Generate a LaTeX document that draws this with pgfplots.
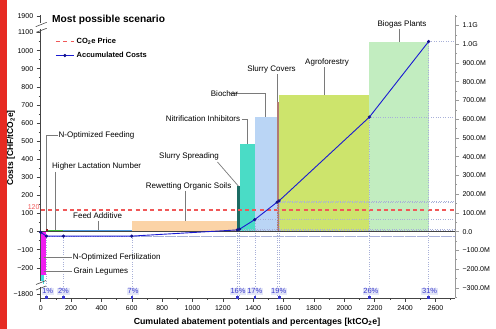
\documentclass[border=0pt]{standalone}
\usepackage{pgfplots}
\pgfplotsset{compat=1.18}
\usepackage{fontspec}
\setmainfont{Liberation Sans}
\definecolor{cGL}{HTML}{40DCDC}
\definecolor{cNOF}{HTML}{F01EF0}
\definecolor{cNFe}{HTML}{8E1B1B}
\definecolor{cHLN}{HTML}{3CBF3C}
\definecolor{cFA}{HTML}{4A9AE0}
\definecolor{cROS}{HTML}{FBD3A6}
\definecolor{cSS}{HTML}{1B6B63}
\definecolor{cNI}{HTML}{4ADCC6}
\definecolor{cBC}{HTML}{BAD5F5}
\definecolor{cSC}{HTML}{B07A74}
\definecolor{cAF}{HTML}{CDE46C}
\definecolor{cBP}{HTML}{C2EDC0}
\definecolor{cLine}{HTML}{1A1AD2}
\definecolor{cMark}{HTML}{12128C}
\definecolor{cDot}{HTML}{A8B0D8}
\definecolor{cLead}{HTML}{7A7A7A}
\definecolor{cPct}{HTML}{3838CC}
\definecolor{cPctBg}{HTML}{E4E7F7}
\definecolor{cAxis}{HTML}{444444}
\definecolor{cRAxis}{HTML}{9A9A9A}
\definecolor{cStripe}{HTML}{E62A22}
\definecolor{cPrice}{HTML}{F05858}
\newcommand{\tickfont}{\fontsize{7}{8}\selectfont}
\newcommand{\barfont}{\fontsize{8}{9.5}\selectfont}
\begin{document}
\begin{tikzpicture}[x=1pt,y=1pt]
\useasboundingbox (0,0) rectangle (496,329);
\fill[cStripe] (0,0) rectangle (7,329);

\begin{axis}[
  at={(40.7pt,31pt)}, anchor=south west,
  scale only axis, width=414.3pt, height=283pt,
  xmin=0, xmax=2729, ymin=-366.9, ymax=1196.7,
  clip mode=individual,
  axis x line*=bottom, axis y line*=left,
  axis line style={cAxis, line width=0.6pt},
  xtick={0,200,...,2600}, minor xtick={100,300,...,2700},
  ytick={-346,-200,-100,0,100,200,300,400,500,600,700,800,900,1000,1100,1192},
  yticklabels={−1800,−200,−100,0,100,200,300,400,500,600,700,800,900,1000,1100,1900},
  minor ytick={-150,-50,50,150,...,1050},
  tick align=outside, major tick length=4pt, minor tick length=2pt,
  every tick/.style={cAxis, line width=0.5pt},
  tick label style={font=\tickfont, text=black},
  /pgf/number format/assume math mode=true,
  /pgf/number format/set thousands separator={},
]
% bars: (start, end) cumulative potential [ktCO2e], height = cost [CHF/tCO2e]
\addplot[fill=cGL, draw=none] coordinates {(0,-290) (20,-290)} \closedcycle;
\addplot[fill=cNOF, draw=none] coordinates {(0,-239) (38,-239)} \closedcycle;
\addplot[fill=cNFe, draw=none] coordinates {(38,14) (47,14)} \closedcycle;
\addplot[fill=cHLN, draw=none] coordinates {(47,9) (150,9)} \closedcycle;
\addplot[fill=cFA, draw=none] coordinates {(150,10) (600,10)} \closedcycle;
\addplot[fill=cROS, draw=none] coordinates {(600,60) (1295,60)} \closedcycle;
\addplot[fill=cSS, draw=none] coordinates {(1295,252) (1310,252)} \closedcycle;
\addplot[fill=cNI, draw=none] coordinates {(1310,483) (1410,483)} \closedcycle;
\addplot[fill=cBC, draw=none] coordinates {(1410,632) (1557,632)} \closedcycle;
\addplot[fill=cSC, draw=none] coordinates {(1557,718) (1570,718)} \closedcycle;
\addplot[fill=cAF, draw=none] coordinates {(1570,753) (2165,753)} \closedcycle;
\addplot[fill=cBP, draw=none] coordinates {(2165,1046) (2555,1046)} \closedcycle;
% zero line
\addplot[draw=cAxis, line width=0.7pt] coordinates {(0,0) (2729,0)};
% CO2e price
\addplot[draw=cPrice, line width=1.5pt, dash pattern=on 4pt off 3.3pt] coordinates {(0,120) (2729,120)};
\node[anchor=east, text=cPrice, font=\tickfont, inner sep=1pt] at (axis cs:0,136) {120};
\end{axis}

\begin{axis}[
  at={(40.7pt,31pt)}, anchor=south west,
  scale only axis, width=414.3pt, height=283pt,
  xmin=0, xmax=2729, ymin=-354.3, ymax=1155.8,
  axis x line=none, axis y line*=right,
  axis line style={cRAxis, line width=0.8pt},
  ytick={-300,-200,...,1100},
  yticklabels={−300.0M,−200.0M,−100.0M,0.0,100.0M,200.0M,300.0M,400.0M,500.0M,600.0M,700.0M,800.0M,900.0M,1.0G,1.1G},
  minor ytick={-350,-250,...,1150},
  tick align=outside, major tick length=4pt, minor tick length=2pt,
  every tick/.style={cRAxis, line width=0.5pt},
  tick label style={font=\tickfont, text=black},
  legend style={at={(0.0345,0.926)}, anchor=north west, draw=none, fill=none,
    font=\bfseries\fontsize{7.5}{9}\selectfont, row sep=3pt, inner sep=0pt},
  legend cell align=left,
  legend image code/.code={\draw[mark repeat=2,mark phase=2,#1] plot coordinates {(0pt,0pt)(9pt,0pt)(18pt,0pt)};},
]
\addlegendimage{draw=cPrice, dash pattern=on 4pt off 3.3pt, line width=1.5pt}
\addlegendentry{CO\textsubscript{2}e Price}
% helper dotted lines
\addplot[cDot, dotted, forget plot] coordinates {(38,-354.3) (38,-24) (2729,-24)};
\addplot[cDot, dotted, forget plot] coordinates {(150,-354.3) (150,-24) (2729,-24)};
\addplot[cDot, dotted, forget plot] coordinates {(600,-354.3) (600,-24) (2729,-24)};
\addplot[cDot, dotted, forget plot] coordinates {(1295,-354.3) (1295,9) (2729,9)};
\addplot[cDot, dotted, forget plot] coordinates {(1310,-354.3) (1310,13) (2729,13)};
\addplot[cDot, dotted, forget plot] coordinates {(1410,-354.3) (1410,64) (2729,64)};
\addplot[cDot, dotted, forget plot] coordinates {(1557,-354.3) (1557,157) (2729,157)};
\addplot[cDot, dotted, forget plot] coordinates {(1570,-354.3) (1570,164) (2729,164)};
\addplot[cDot, dotted, forget plot] coordinates {(2165,-354.3) (2165,611) (2729,611)};
\addplot[cDot, dotted, forget plot] coordinates {(2555,-354.3) (2555,1014) (2729,1014)};
% accumulated costs [CHF]
\addplot[color=cLine, line width=0.9pt, mark=*, mark size=1.1pt, mark options={draw=cMark, fill=cMark}]
  coordinates {(0,-4) (38,-24) (150,-24) (600,-24) (1295,9) (1310,13) (1410,64) (1557,157) (1570,164) (2165,611) (2555,1014)};
\addlegendentry{Accumulated Costs}
% percentage markers
\addplot[only marks, mark=square*, mark size=0.9pt, color=cPct, forget plot]
  coordinates {(38,-350) (150,-350) (600,-350) (1295,-350) (1410,-350) (1570,-350) (2165,-350) (2555,-350)};
\begin{scope}[every node/.style={font=\fontsize{7.5}{8}\selectfont, text=cPct, fill=cPctBg, inner sep=0.7pt}]
\node at (axis cs:46,-318) {1\%};
\node at (axis cs:150,-318) {2\%};
\node at (axis cs:608,-318) {7\%};
\node at (axis cs:1300,-318) {16\%};
\node at (axis cs:1410,-318) {17\%};
\node at (axis cs:1568,-318) {19\%};
\node at (axis cs:2175,-318) {26\%};
\node at (axis cs:2562,-318) {31\%};
\end{scope}
\end{axis}

\begin{scope}[shift={(0,329)}, yscale=-1]
% axis breaks
\fill[white] (38.5,23.5) rectangle (43,29.5);
\draw[cAxis, line width=0.6pt] (35.7,26.7) -- (46.7,22.3);
\draw[cAxis, line width=0.6pt] (36.2,32.3) -- (46.7,28.3);
\fill[white] (38.5,281.5) rectangle (43,287.5);
\draw[cAxis, line width=0.6pt] (36,284.5) -- (46,280.5);
\draw[cAxis, line width=0.6pt] (36,290) -- (46,286);
% leaders
\begin{scope}[draw=cLead, line width=0.7pt]
\draw (57.5,135) -- (46.7,135) -- (46.7,229);
\draw (55.7,172) -- (55.7,229.8);
\draw (98,221) -- (98,229.8);
\draw (185.7,191) -- (185.7,220.8);
\draw (217.5,162) -- (238.3,186);
\draw (241.5,119) -- (247.7,119) -- (247.7,144.3);
\draw (229.5,93.3) -- (265,93.3) -- (265,117.3);
\draw (277.5,74.5) -- (277.5,101.7);
\draw (324,67.5) -- (324,95.3);
\draw (399.7,29.5) -- (399.7,42.3);
\draw (44,257) -- (71.5,257);
\draw (44,271.7) -- (72,271.7);
\end{scope}
\begin{scope}[every node/.style={font=\barfont, inner sep=0pt, text=black}]
\node[anchor=west] at (58.5,135) {N-Optimized Feeding};
\node[anchor=west] at (52,166.7) {Higher Lactation Number};
\node[anchor=west] at (73,216) {Feed Additive};
\node[anchor=west] at (145.7,186) {Rewetting Organic Soils};
\node[anchor=west] at (159,156) {Slurry Spreading};
\node[anchor=west] at (165.7,119) {Nitrification Inhibitors};
\node[anchor=west] at (210.7,93.3) {Biochar};
\node at (271.5,69) {Slurry Covers};
\node at (327,62) {Agroforestry};
\node at (402,24) {Biogas Plants};
\node[anchor=west] at (72.7,257) {N-Optimized Fertilization};
\node[anchor=west] at (73.3,271.7) {Grain Legumes};
\end{scope}
\node[anchor=west, inner sep=0pt, font=\bfseries\fontsize{10.2}{12}\selectfont] at (52,20) {Most possible scenario};
\node[rotate=90, inner sep=0pt, font=\bfseries\fontsize{8.5}{10}\selectfont] at (11,148) {Costs [CHF/tCO\textsubscript{2}e]};
\node[inner sep=0pt, font=\bfseries\fontsize{8.8}{10}\selectfont] at (257,322) {Cumulated abatement potentials and percentages [ktCO\textsubscript{2}e]};
\end{scope}
\end{tikzpicture}
\end{document}
